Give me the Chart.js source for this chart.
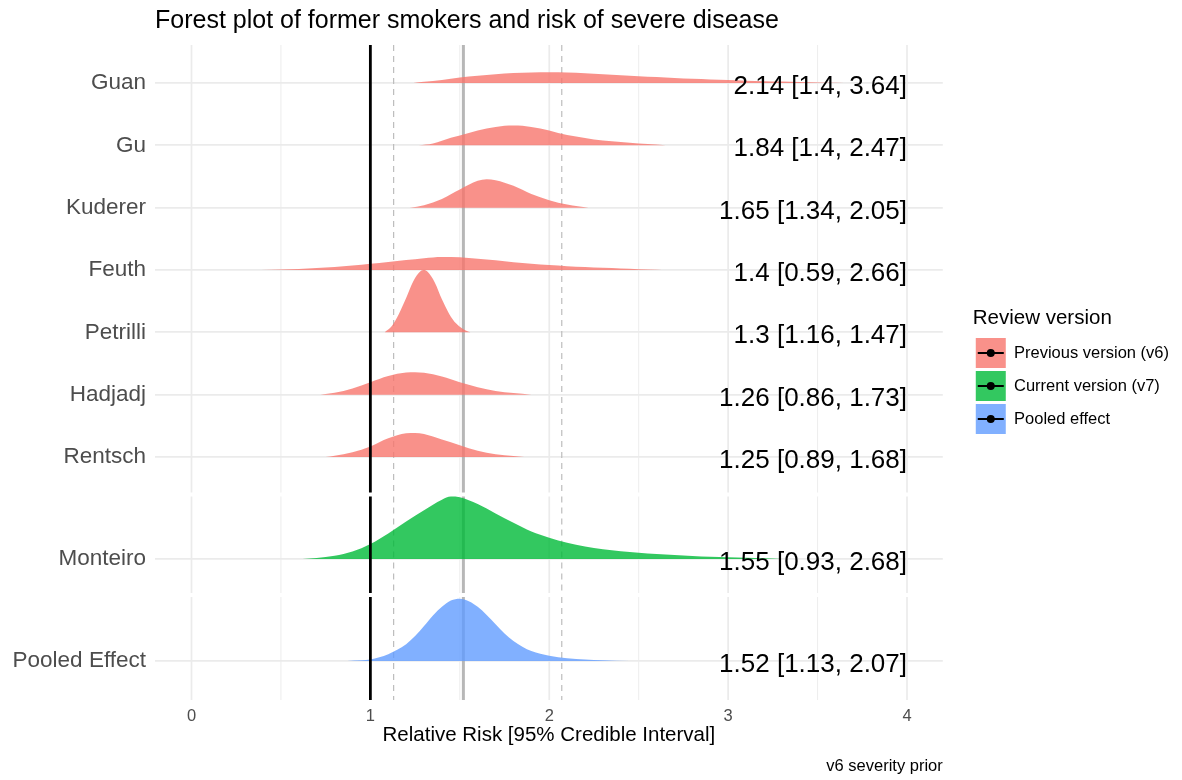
<!DOCTYPE html>
<html><head><meta charset="utf-8">
<script src="https://cdn.jsdelivr.net/npm/chart.js@4.4.1/dist/chart.umd.min.js"></script>
<style>html,body{margin:0;padding:0;background:#fff}canvas{display:block}</style>
</head><body>
<canvas id="c" width="1182" height="780"></canvas>
<script>
const FONT = "'Liberation Sans', Arial, Helvetica, sans-serif";

// ---- data ----
const v6Studies = ['Guan', 'Gu', 'Kuderer', 'Feuth', 'Petrilli', 'Hadjadj', 'Rentsch'];
const v6Labels = ['2.14 [1.4, 3.64]', '1.84 [1.4, 2.47]', '1.65 [1.34, 2.05]', '1.4 [0.59, 2.66]', '1.3 [1.16, 1.47]', '1.26 [0.86, 1.73]', '1.25 [0.89, 1.68]'];
const v7Studies = ['Monteiro'];
const v7Labels = ['1.55 [0.93, 2.68]'];
const pooledStudies = ['Pooled Effect'];
const pooledLabels = ['1.52 [1.13, 2.07]'];
const groupNames = ['Previous version (v6)', 'Current version (v7)', 'Pooled effect'];
const groupColors = ['rgba(248,118,109,0.8)', 'rgba(0,186,56,0.8)', 'rgba(97,156,255,0.8)'];
const xTicks = [0, 0.5, 1, 1.5, 2, 2.5, 3, 3.5, 4];
const nullEffect = 1;
const pooledEstimate = 1.52;
const pooledInterval = [1.13, 2.07];

// densities: [relative risk, ridge height in row units]
const guanDensity = [[1.24,0],[1.3,0.02],[1.4,0.05],[1.5,0.09],[1.6,0.115],[1.7,0.14],[1.8,0.16],[1.9,0.17],[2.0,0.172],[2.1,0.168],[2.2,0.155],[2.3,0.14],[2.4,0.125],[2.5,0.11],[2.6,0.095],[2.7,0.08],[2.8,0.068],[2.9,0.057],[3.0,0.047],[3.1,0.038],[3.2,0.03],[3.3,0.023],[3.4,0.016],[3.5,0.01],[3.6,0.005],[3.7,0]];
const guDensity = [[1.27,0],[1.35,0.03],[1.45,0.12],[1.55,0.2],[1.65,0.27],[1.75,0.315],[1.8,0.32],[1.85,0.315],[1.95,0.27],[2.05,0.2],[2.15,0.14],[2.25,0.095],[2.35,0.065],[2.45,0.04],[2.55,0.02],[2.65,0]];
const kudererDensity = [[1.22,0],[1.3,0.04],[1.4,0.14],[1.5,0.29],[1.6,0.43],[1.65,0.455],[1.7,0.44],[1.8,0.35],[1.9,0.22],[2.0,0.12],[2.1,0.05],[2.22,0]];
const feuthDensity = [[0.39,0],[0.5,0.008],[0.6,0.018],[0.7,0.032],[0.8,0.05],[0.9,0.072],[1.0,0.1],[1.1,0.13],[1.2,0.16],[1.3,0.19],[1.4,0.21],[1.5,0.205],[1.6,0.18],[1.7,0.155],[1.8,0.125],[1.9,0.1],[2.0,0.08],[2.1,0.062],[2.2,0.047],[2.3,0.035],[2.4,0.024],[2.5,0.014],[2.6,0.006],[2.66,0]];
const petrilliDensity = [[1.08,0],[1.12,0.1],[1.16,0.3],[1.2,0.55],[1.24,0.82],[1.28,0.98],[1.3,1.0],[1.32,0.97],[1.36,0.8],[1.4,0.53],[1.44,0.3],[1.48,0.14],[1.52,0.05],[1.56,0]];
const hadjadjDensity = [[0.72,0],[0.8,0.03],[0.9,0.1],[1.0,0.2],[1.1,0.3],[1.2,0.355],[1.25,0.36],[1.3,0.35],[1.4,0.29],[1.5,0.2],[1.6,0.12],[1.7,0.06],[1.8,0.025],[1.9,0]];
const rentschDensity = [[0.75,0],[0.8,0.02],[0.9,0.075],[1.0,0.17],[1.1,0.3],[1.2,0.38],[1.25,0.385],[1.3,0.37],[1.4,0.28],[1.5,0.19],[1.6,0.1],[1.7,0.045],[1.8,0.015],[1.86,0]];
const monteiroDensity = [[0.62,0],[0.7,0.015],[0.8,0.05],[0.9,0.12],[1.0,0.24],[1.1,0.41],[1.2,0.6],[1.3,0.78],[1.4,0.95],[1.45,1.0],[1.5,0.99],[1.6,0.88],[1.7,0.73],[1.8,0.58],[1.9,0.44],[2.0,0.34],[2.1,0.26],[2.2,0.2],[2.3,0.155],[2.4,0.125],[2.5,0.1],[2.6,0.08],[2.7,0.063],[2.8,0.048],[2.9,0.036],[3.0,0.027],[3.1,0.019],[3.2,0.012],[3.3,0]];
const pooledDensity = [[0.87,0],[0.95,0.01],[1.0,0.025],[1.05,0.06],[1.1,0.11],[1.15,0.18],[1.2,0.27],[1.25,0.4],[1.3,0.56],[1.35,0.73],[1.4,0.87],[1.45,0.97],[1.5,1.0],[1.55,0.96],[1.6,0.87],[1.65,0.74],[1.7,0.59],[1.75,0.44],[1.8,0.32],[1.85,0.23],[1.9,0.16],[2.0,0.085],[2.1,0.045],[2.2,0.025],[2.3,0.012],[2.45,0]];

const v6Densities = [guanDensity, guDensity, kudererDensity, feuthDensity, petrilliDensity, hadjadjDensity, rentschDensity];
const v7Densities = [monteiroDensity];
const pooledDensities = [pooledDensity];

// ---- build ----
const facets = [
  {id: 'yV6', studies: v6Studies, labels: v6Labels, dens: v6Densities, color: groupColors[0]},
  {id: 'yV7', studies: v7Studies, labels: v7Labels, dens: v7Densities, color: groupColors[1]},
  {id: 'yPooled', studies: pooledStudies, labels: pooledLabels, dens: pooledDensities, color: groupColors[2]}
];

const datasets = [];
facets.forEach(f => {
  const n = f.studies.length;
  f.studies.forEach((s, i) => {
    const base = n - i;
    datasets.push({
      label: s,
      yAxisID: f.id,
      data: f.dens[i].map(([x, h]) => ({x: x, y: base + h})),
      fill: {value: base},
      backgroundColor: f.color,
      borderColor: 'rgba(0,0,0,0)',
      borderWidth: 0,
      pointRadius: 0,
      cubicInterpolationMode: 'monotone',
      order: base
    });
  });
});

function yAxis(f, weight, min, max) {
  const n = f.studies.length;
  return {
    type: 'linear', position: 'left', stack: 'facets', stackWeight: weight,
    min: min, max: max,
    afterBuildTicks: a => { a.ticks = f.studies.map((s, i) => ({value: n - i})); },
    afterFit: s => { s.width = 144; },
    ticks: {
      callback: v => f.studies[n - Math.round(v)] || '',
      color: '#4D4D4D', font: {family: FONT, size: 22.5}, padding: 9, autoSkip: false
    },
    grid: {color: '#EBEBEB', lineWidth: 1.7, drawTicks: false},
    border: {display: false}
  };
}

function panels(chart) {
  return facets.map((f, i) => {
    const s = chart.scales[f.id];
    return [s.top + (i > 0 ? 2 : 0), s.bottom - (i < facets.length - 1 ? 2 : 0)];
  });
}

function vline(ctx, px, ps) {
  ps.forEach(([t, b]) => { ctx.beginPath(); ctx.moveTo(px, t); ctx.lineTo(px, b); ctx.stroke(); });
}

const refPlugin = {
  id: 'refLines',
  beforeDatasetsDraw(chart) {
    const ctx = chart.ctx, x = chart.scales.x, ps = panels(chart);
    ctx.save();
    ctx.strokeStyle = '#EBEBEB';
    xTicks.forEach(v => {
      ctx.lineWidth = Number.isInteger(v) ? 1.7 : 0.9;
      vline(ctx, x.getPixelForValue(v), ps);
    });
    ctx.strokeStyle = '#BDBDBD';
    ctx.lineWidth = 1.2;
    ctx.setLineDash([6, 5]);
    pooledInterval.forEach(v => vline(ctx, x.getPixelForValue(v), ps));
    ctx.setLineDash([]);
    ctx.strokeStyle = 'rgba(165,165,165,0.8)';
    ctx.lineWidth = 3;
    vline(ctx, x.getPixelForValue(pooledEstimate), ps);
    ctx.restore();
  },
  afterDatasetsDraw(chart) {
    const ctx = chart.ctx, x = chart.scales.x, ps = panels(chart);
    ctx.save();
    ctx.strokeStyle = '#000';
    ctx.lineWidth = 2.8;
    vline(ctx, x.getPixelForValue(nullEffect), ps);
    ctx.fillStyle = '#000';
    ctx.font = '26px ' + FONT;
    ctx.textAlign = 'right';
    ctx.textBaseline = 'alphabetic';
    facets.forEach(f => {
      const y = chart.scales[f.id], n = f.studies.length;
      f.labels.forEach((t, i) => ctx.fillText(t, x.getPixelForValue(4), y.getPixelForValue(n - i) + 11));
    });
    ctx.restore();
  },
  afterDraw(chart) {
    const lg = chart.legend;
    if (!lg || !lg.legendHitBoxes) return;
    const ctx = chart.ctx;
    ctx.save();
    ctx.strokeStyle = '#000';
    ctx.fillStyle = '#000';
    ctx.lineWidth = 2;
    lg.legendHitBoxes.forEach(hb => {
      const cx = hb.left + 15, cy = hb.top + 15;
      ctx.beginPath(); ctx.moveTo(cx - 13, cy); ctx.lineTo(cx + 13, cy); ctx.stroke();
      ctx.beginPath(); ctx.arc(cx, cy, 4, 0, Math.PI * 2); ctx.fill();
    });
    ctx.restore();
  }
};

new Chart(document.getElementById('c'), {
  type: 'line',
  data: {datasets: datasets},
  plugins: [refPlugin],
  options: {
    responsive: false,
    animation: false,
    events: [],
    layout: {padding: {left: 11, right: 3, top: 0, bottom: 0}},
    scales: {
      x: {
        type: 'linear', min: -0.204, max: 4.2,
        afterBuildTicks: a => { a.ticks = xTicks.map(v => ({value: v})); },
        afterFit: s => { s.height = 49; },
        ticks: {
          callback: v => Number.isInteger(v) ? String(v) : '',
          color: '#4D4D4D', font: {family: FONT, size: 16.5, lineHeight: 1}, padding: 8,
          maxRotation: 0, autoSkip: false
        },
        grid: {display: false, drawTicks: false},
        border: {display: false},
        title: {display: true, text: 'Relative Risk [95% Credible Interval]', color: '#000',
          font: {family: FONT, size: 20.5, lineHeight: 1}, padding: {top: 0, bottom: 3}}
      },
      yPooled: yAxis(facets[2], 105, 0.374, 2.059),
      yV7: yAxis(facets[1], 100.5, 0.422, 2.034),
      yV6: yAxis(facets[0], 449.5, 0.398, 7.61),
      ySpacer: {
        type: 'linear', position: 'right', display: true,
        ticks: {display: false}, grid: {display: false, drawTicks: false}, border: {display: false},
        afterFit: s => { s.width = 30; }
      }
    },
    plugins: {
      title: {display: true, text: 'Forest plot of former smokers and risk of severe disease',
        align: 'start', fullSize: false, color: '#000',
        font: {family: FONT, size: 25, weight: 'normal', lineHeight: 1.2}, padding: {top: 6.3, bottom: 8.7}},
      subtitle: {display: true, text: 'v6 severity prior', position: 'bottom', align: 'end', fullSize: false,
        color: '#000', font: {family: FONT, size: 16.5, weight: 'normal', lineHeight: 1.2}, padding: {top: 7.4, bottom: 3.8}},
      legend: {
        display: true, position: 'right', align: 'center', fullSize: false, maxWidth: 210,
        title: {display: true, text: 'Review version', color: '#000', position: 'start',
          font: {family: FONT, size: 20.5, lineHeight: 1.2}, padding: {top: 0, bottom: 2.4}},
        labels: {
          boxWidth: 30, boxHeight: 30, padding: 3, color: '#000',
          font: {family: FONT, size: 16.5},
          generateLabels: () => groupNames.map((t, i) => ({
            text: t, fillStyle: groupColors[i], strokeStyle: 'rgba(0,0,0,0)', lineWidth: 0, hidden: false
          }))
        }
      },
      tooltip: {enabled: false}
    }
  }
});
</script>
</body></html>
